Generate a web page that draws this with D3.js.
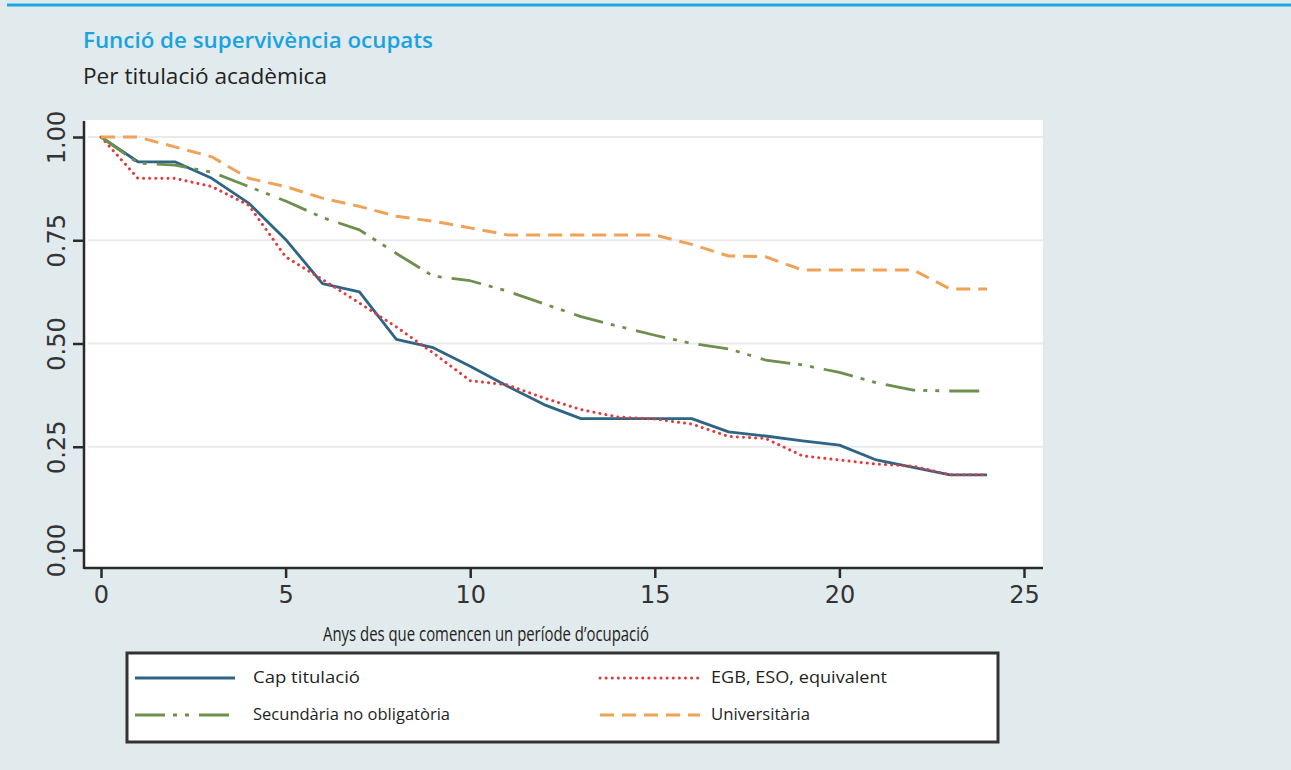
<!DOCTYPE html>
<html lang="ca">
<head>
<meta charset="utf-8">
<title>Funció de supervivència ocupats</title>
<script src="https://cdn.jsdelivr.net/npm/d3@7/dist/d3.min.js"></script>
<style>
  html, body { margin: 0; padding: 0; background: #e1eaed; }
  svg { display: block; }
</style>
</head>
<body>
<svg id="chart" width="1291" height="770"></svg>
<script>
// Anys des de l'inici del període d'ocupació
const years = [0,1,2,3,4,5,6,7,8,9,10,11,12,13,14,15,16,17,18,19,20,21,22,23,24];

// Funció de supervivència per titulació acadèmica
const capTitulacio = [1.00,0.94,0.94,0.90,0.84,0.752,0.645,0.625,0.51,0.49,0.445,0.397,0.352,0.318,0.318,0.318,0.318,0.286,0.276,0.264,0.254,0.218,0.200,0.182,0.182];
const egbEso       = [1.00,0.90,0.90,0.88,0.835,0.71,0.655,0.598,0.54,0.477,0.41,0.40,0.368,0.34,0.322,0.317,0.305,0.275,0.27,0.228,0.218,0.208,0.203,0.182,0.182];
const secundaria   = [1.00,0.937,0.932,0.915,0.88,0.845,0.805,0.775,0.718,0.663,0.652,0.627,0.596,0.565,0.542,0.52,0.50,0.487,0.46,0.448,0.43,0.405,0.387,0.385,0.385];
const universitaria= [1.00,1.00,0.976,0.952,0.90,0.88,0.852,0.832,0.808,0.796,0.78,0.763,0.763,0.763,0.763,0.763,0.74,0.712,0.71,0.678,0.678,0.678,0.678,0.632,0.632];

const seriesNames = ["Cap titulació","EGB, ESO, equivalent","Secundària no obligatòria","Universitària"];
const xTicks = [0,5,10,15,20,25];
const yTicks = [0,0.25,0.5,0.75,1];
const yTickLabels = ["0.00","0.25","0.50","0.75","1.00"];

const series = [
  {name: seriesNames[0], values: capTitulacio, color: "#2e6485", width: 2.8, dash: null, cap: "butt"},
  {name: seriesNames[1], values: egbEso, color: "#e23b3c", width: 3, dash: "0.1,6", cap: "round"},
  {name: seriesNames[2], values: secundaria, color: "#6e8f4e", width: 2.8, dash: "30,8,4,8,4,10", cap: "butt"},
  {name: seriesNames[3], values: universitaria, color: "#f0a256", width: 3, dash: "14,8", cap: "butt"}
];

const svg = d3.select("#chart");
const font = "'DejaVu Sans', Verdana, sans-serif";
const textFont = "'Open Sans', 'Noto Sans', sans-serif";

// Fons i línia superior
svg.append("rect").attr("width", 1291).attr("height", 770).attr("fill", "#e1eaed");
svg.append("line").attr("x1", 7).attr("x2", 1291).attr("y1", 5).attr("y2", 5)
  .attr("stroke", "#1ea5e3").attr("stroke-width", 3);

// Títols
svg.append("text").attr("x", 83).attr("y", 48)
  .attr("font-family", textFont).attr("font-weight", 600).attr("font-size", 21)
  .attr("fill", "#1aa3df").attr("textLength", 350).attr("lengthAdjust", "spacingAndGlyphs")
  .text("Funció de supervivència ocupats");
svg.append("text").attr("x", 83).attr("y", 84)
  .attr("font-family", textFont).attr("font-size", 21)
  .attr("fill", "#231f20").attr("textLength", 244).attr("lengthAdjust", "spacingAndGlyphs")
  .text("Per titulació acadèmica");

// Escales
const x = d3.scaleLinear().domain([0, 25]).range([101, 1024]);
const y = d3.scaleLinear().domain([0, 1]).range([550, 137]);

// Àrea del gràfic
const plot = {left: 85, right: 1043, top: 120, bottom: 567};
svg.append("rect").attr("x", plot.left).attr("y", plot.top)
  .attr("width", plot.right - plot.left).attr("height", plot.bottom - plot.top)
  .attr("fill", "#ffffff");

// Línies de graella
svg.append("g").selectAll("line").data(yTicks.filter(d => d > 0)).join("line")
  .attr("x1", plot.left + 3).attr("x2", plot.right)
  .attr("y1", d => y(d)).attr("y2", d => y(d))
  .attr("stroke", "#e9eaeb").attr("stroke-width", 2);

// Eixos
const xAxis = svg.append("g").attr("transform", `translate(0,${plot.bottom + 1})`)
  .call(d3.axisBottom(x).tickValues(xTicks).tickSize(10).tickPadding(8).tickFormat(d3.format("d")));
xAxis.select(".domain").attr("d", `M${plot.left - 1},0H${plot.right}`)
  .attr("stroke", "#2a2a2a").attr("stroke-width", 2.5);
xAxis.selectAll(".tick line").attr("stroke", "#2a2a2a").attr("stroke-width", 2.5);
xAxis.selectAll(".tick text").attr("font-family", font).attr("font-size", 24)
  .attr("fill", "#333").attr("dy", "0.71em");

const yAxis = svg.append("g").attr("transform", `translate(${plot.left - 1},0)`)
  .call(d3.axisLeft(y).tickValues(yTicks).tickSize(11)
    .tickFormat((d, i) => yTickLabels[i]));
yAxis.select(".domain").attr("d", `M0,${plot.top + 1}V${plot.bottom + 2}`)
  .attr("stroke", "#2a2a2a").attr("stroke-width", 2.5);
yAxis.selectAll(".tick line").attr("stroke", "#2a2a2a").attr("stroke-width", 2.5);
yAxis.selectAll(".tick text")
  .attr("font-family", font).attr("font-size", 24).attr("fill", "#333")
  .attr("x", null).attr("dy", null)
  .attr("text-anchor", "middle")
  .attr("transform", "translate(-19,0) rotate(-90)");

// Títol de l'eix X
svg.append("text").attr("x", 486).attr("y", 641).attr("text-anchor", "middle")
  .attr("font-family", textFont).attr("font-size", 20).attr("fill", "#231f20")
  .attr("textLength", 326).attr("lengthAdjust", "spacingAndGlyphs")
  .text("Anys des que comencen un període d’ocupació");

// Corbes
const line = d3.line().x((d, i) => x(years[i])).y(d => y(d));
svg.append("g").selectAll("path").data(series).join("path")
  .attr("d", d => line(d.values))
  .attr("fill", "none")
  .attr("stroke", d => d.color)
  .attr("stroke-width", d => d.width)
  .attr("stroke-dasharray", d => d.dash)
  .attr("stroke-linecap", d => d.cap)
  .attr("stroke-linejoin", "round");

// Llegenda
const legend = svg.append("g");
legend.append("rect").attr("x", 127).attr("y", 653).attr("width", 871).attr("height", 89)
  .attr("fill", "#ffffff").attr("stroke", "#333").attr("stroke-width", 3);
const legendPos = [
  {sx: 135, tx: 253, y: 678, w: 107},
  {sx: 600, tx: 711, y: 678, w: 176},
  {sx: 135, tx: 253, y: 715, w: 197},
  {sx: 600, tx: 711, y: 715, w: 99}
];
series.forEach((s, i) => {
  const p = legendPos[i];
  legend.append("line").attr("x1", p.sx).attr("x2", p.sx + 100)
    .attr("y1", p.y).attr("y2", p.y)
    .attr("stroke", s.color).attr("stroke-width", s.width)
    .attr("stroke-dasharray", s.dash).attr("stroke-linecap", s.cap);
  legend.append("text").attr("x", p.tx).attr("y", p.y + 5)
    .attr("font-family", textFont).attr("font-size", 16).attr("fill", "#231f20")
    .attr("textLength", p.w).attr("lengthAdjust", "spacingAndGlyphs")
    .text(s.name);
});
</script>
</body>
</html>
